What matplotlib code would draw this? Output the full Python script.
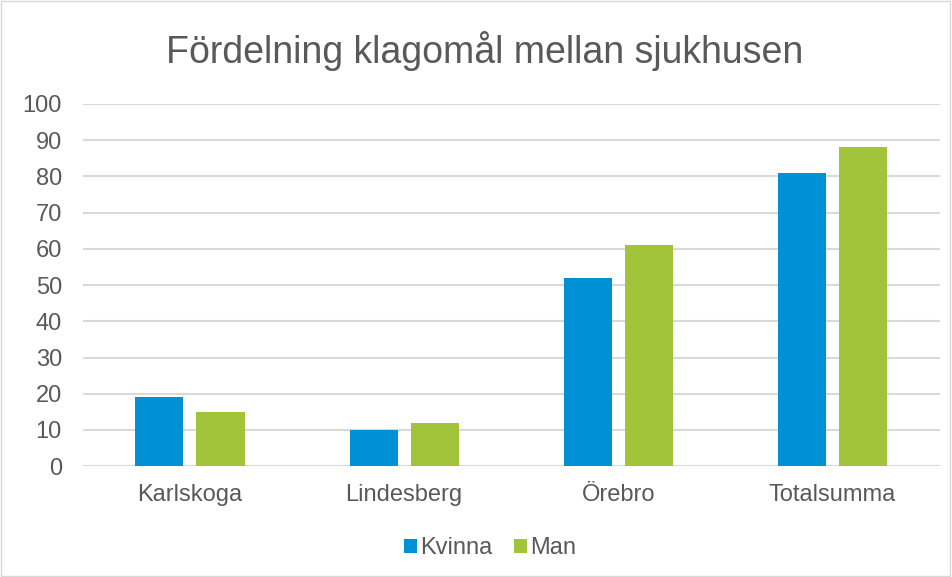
import matplotlib.pyplot as plt
import numpy as np

plt.rcParams['font.family'] = ['Liberation Sans', 'DejaVu Sans']

categories = ["Karlskoga", "Lindesberg", "Örebro", "Totalsumma"]
kvinna = [19, 10, 52, 81]
man = [15, 12, 61, 88]
yticks = list(range(0, 101, 10))

blue = "#0090d4"
green = "#a1c43a"
text_col = "#595959"

fig = plt.figure(figsize=(9.52, 5.77), dpi=100)
ax = fig.add_axes([0.087, 0.192, 0.9, 0.628])

x = np.arange(len(categories))
w = 0.225
gap = 0.06
ax.bar(x - (w + gap) / 2, kvinna, w, color=blue, label="Kvinna", zorder=3)
ax.bar(x + (w + gap) / 2, man, w, color=green, label="Man", zorder=3)

ax.set_xlim(-0.5, len(categories) - 0.5)
ax.set_ylim(0, 100)
ax.set_yticks(yticks)
ax.set_xticks(x)
ax.set_xticklabels(categories)
ax.grid(axis='y', color='#d9d9d9', linewidth=1.5, zorder=0)
for s in ax.spines.values():
    s.set_visible(False)
ax.tick_params(length=0, colors=text_col, labelsize=17)
ax.tick_params(axis='x', pad=13)
ax.tick_params(axis='y', pad=15)

fig.text(0.5095, 0.912, "Fördelning klagomål mellan sjukhusen", ha='center', va='center',
         fontsize=27, color=text_col)

ax.legend(loc='center', bbox_to_anchor=(0.475, -0.226), ncol=2, frameon=False,
          fontsize=17, labelcolor=text_col, handlelength=0.55, handleheight=0.55,
          handletextpad=0.15, columnspacing=0.9)

fig.patches.append(plt.Rectangle((0.001, 0.002), 0.997, 0.996, transform=fig.transFigure,
                                 fill=False, edgecolor='#d9d9d9', linewidth=1))

fig.savefig("out.png", dpi=100)
